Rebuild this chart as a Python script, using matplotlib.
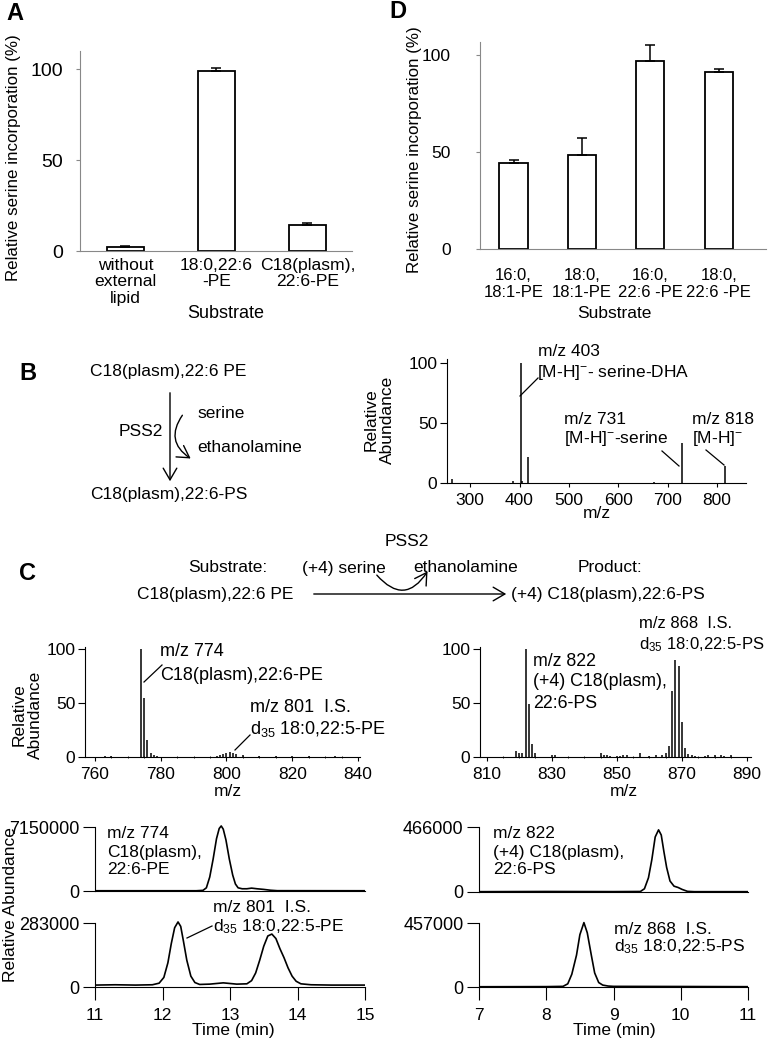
import matplotlib
matplotlib.use('Agg')
import matplotlib.pyplot as plt
from matplotlib.patches import FancyArrowPatch
from matplotlib.lines import Line2D

plt.rcParams['font.family'] = ['Liberation Sans', 'DejaVu Sans']
plt.rcParams['font.size'] = 12.5
plt.rcParams['mathtext.fontset'] = 'custom'
plt.rcParams['mathtext.rm'] = 'Liberation Sans'
plt.rcParams['mathtext.it'] = 'Liberation Sans:italic'
plt.rcParams['mathtext.bf'] = 'Liberation Sans:bold'

# ---- data ----
# A: serine incorporation
a_labels = ['without\nexternal\nlipid', '18:0,22:6\n-PE', 'C18(plasm),\n22:6-PE']
a_vals = [2.2, 99, 14.3]
a_err = [0.6, 1.5, 1.3]

# D: serine incorporation, other substrates
d_labels = ['16:0,\n18:1-PE', '18:0,\n18:1-PE', '16:0,\n22:6 -PE', '18:0,\n22:6 -PE']
d_vals = [44.3, 48.7, 97.1, 91.1]
d_err = [1.5, 8.4, 8.0, 1.5]

# B: MS/MS of product
b_mz = [264, 387, 403, 406, 418, 672, 729, 816]
b_int = [3, 2, 100, 1.5, 22, 1, 33, 14.5]

# C: substrate spectrum
c1_mz = [763, 765, 774, 775, 776, 777, 778, 779, 797, 798, 799, 800, 801, 802, 803, 805, 810, 815, 820, 825, 833]
c1_int = [0.8, 0.8, 100, 55, 16, 4, 1.5, 1, 1, 1.5, 2.5, 4, 5, 4, 2.5, 1.5, 1, 1, 1, 0.8, 0.8]

# C: product spectrum
c2_mz = [819, 820, 821, 822, 823, 824, 825, 830, 831, 845, 846, 847, 848, 850, 851, 852, 853,
         857, 860, 862, 864, 865, 866, 867, 868, 869, 870, 871, 872, 873, 874, 877, 878, 880, 882, 883, 885]
c2_int = [6, 4, 4, 100, 49, 12.5, 4, 2, 1.5, 4, 2, 1.5, 1, 1, 1, 1.5, 1.5,
          4, 1, 2, 2, 4, 10, 61, 90, 84, 32, 8, 3, 2, 1, 1, 1.5, 1.5, 1.5, 1, 1.5]

# C: chromatograms (fraction of full scale)
cl1_t = [11.0, 12.5, 12.6, 12.65, 12.7, 12.75, 12.8, 12.84, 12.87, 12.9, 12.94, 12.99, 13.04, 13.08,
         13.12, 13.18, 13.25, 13.32, 13.4, 13.5, 13.6, 13.7, 15.0]
cl1_y = [0.004, 0.004, 0.01, 0.05, 0.22, 0.5, 0.82, 0.98, 1.02, 0.97, 0.8, 0.5, 0.25, 0.11,
         0.05, 0.035, 0.035, 0.045, 0.035, 0.025, 0.012, 0.005, 0.004]
cl1_max = 7150000

cl2_t = [11.0, 11.3, 11.6, 11.85, 11.95, 12.02, 12.08, 12.13, 12.18, 12.23, 12.27, 12.31, 12.36, 12.42,
         12.48, 12.55, 12.7, 12.9, 13.1, 13.25, 13.32, 13.38, 13.44, 13.5, 13.56, 13.62, 13.68, 13.74,
         13.8, 13.86, 13.92, 13.98, 14.05, 14.2, 14.5, 15.0]
cl2_y = [0.03, 0.035, 0.03, 0.035, 0.06, 0.15, 0.38, 0.68, 0.93, 1.02, 0.95, 0.72, 0.42, 0.17,
         0.07, 0.04, 0.045, 0.065, 0.045, 0.05, 0.1, 0.22, 0.42, 0.64, 0.8, 0.83, 0.76, 0.6,
         0.46, 0.3, 0.17, 0.09, 0.05, 0.035, 0.03, 0.03]
cl2_max = 283000

cr1_t = [7.0, 8.0, 9.0, 9.4, 9.46, 9.52, 9.57, 9.62, 9.67, 9.71, 9.75, 9.79, 9.84, 9.9, 9.96, 10.02, 10.1, 10.2, 11.0]
cr1_y = [0.005, 0.008, 0.006, 0.008, 0.05, 0.22, 0.5, 0.85, 0.96, 0.88, 0.62, 0.38, 0.17, 0.09, 0.07, 0.04, 0.01, 0.005, 0.005]
cr1_max = 466000

cr2_t = [7.0, 8.0, 8.25, 8.32, 8.38, 8.45, 8.5, 8.56, 8.61, 8.67, 8.72, 8.78, 8.84, 8.92, 9.0, 10.0, 11.0]
cr2_y = [0.004, 0.006, 0.01, 0.05, 0.2, 0.5, 0.82, 1.01, 0.85, 0.5, 0.22, 0.07, 0.03, 0.015, 0.01, 0.008, 0.005]
cr2_max = 457000

W, H = 768, 1042
fig = plt.figure(figsize=(W / 100, H / 100), dpi=100)


def box(l, t, r, b):
    # axes from pixel edges
    return fig.add_axes([l / W, 1 - b / H, (r - l) / W, (b - t) / H])


def ftext(x, y, s, **kw):
    kw.setdefault('va', 'center')
    return fig.text(x / W, 1 - y / H, s, **kw)


def fline(x1, y1, x2, y2):
    fig.add_artist(Line2D([x1 / W, x2 / W], [1 - y1 / H, 1 - y2 / H], color='black', lw=0.9,
                          transform=fig.transFigure))


def farrow(x1, y1, x2, y2, rad=0.0):
    fig.add_artist(FancyArrowPatch((x1 / W, 1 - y1 / H), (x2 / W, 1 - y2 / H),
                                   transform=fig.transFigure, arrowstyle='->,head_length=0.6,head_width=0.35',
                                   connectionstyle='arc3,rad=%s' % rad, mutation_scale=14, lw=1.0,
                                   color='black'))


def bar_panel(ax, labels, vals, errs, ylim, xlim, pad, ysize, xsize):
    x = list(range(len(vals)))
    ax.bar(x, vals, width=0.41, color='white', edgecolor='black', lw=1.3,
           yerr=[[0] * len(errs), errs], error_kw=dict(ecolor='black', capsize=3.5, elinewidth=1.1, capthick=1.1))
    ax.set_ylim(*ylim)
    ax.set_xlim(*xlim)
    ax.set_yticks([0, 50, 100])
    ax.set_xticks(x)
    ax.set_xticklabels(labels, linespacing=1.12)
    for s in ['top', 'right']:
        ax.spines[s].set_visible(False)
    for s in ['left', 'bottom']:
        ax.spines[s].set_color('#888888')
    ax.tick_params(axis='y', length=3, color='#888888', pad=pad, labelsize=ysize)
    ax.tick_params(axis='x', length=0, pad=pad - 4, labelsize=xsize)


# ---- A ----
axA = box(80, 51, 352, 251)
bar_panel(axA, a_labels, a_vals, a_err, (0, 110), (-0.5, 2.49), 9, 14, 12.6)
ftext(14, 158, 'Relative serine incorporation (%)', rotation=90, ha='center', fontsize=12.2)
ftext(226, 314, 'Substrate', ha='center', fontsize=13)
ftext(15, 13, 'A', ha='center', fontsize=17, fontweight='bold')

# ---- D ----
axD = box(480, 42, 766, 249)
bar_panel(axD, d_labels, d_vals, d_err, (0, 106.7), (-0.49, 3.69), 18, 12.5, 12)
ftext(414, 150, 'Relative serine incorporation (%)', rotation=90, ha='center', fontsize=12.2)
ftext(614, 314, 'Substrate', ha='center')
ftext(398, 11, 'D', ha='center', fontsize=17, fontweight='bold')


def ms_axes(ax, mz, ints, xlim, ymax, xticks):
    ax.vlines(mz, 0, ints, color='black', lw=1.1)
    ax.set_xlim(*xlim)
    ax.set_ylim(0, ymax)
    ax.set_yticks([0, 50, 100])
    ax.set_xticks(xticks)
    for s in ['top', 'right']:
        ax.spines[s].set_visible(False)
    ax.tick_params(axis='y', length=5, pad=2)
    ax.tick_params(axis='x', length=3, pad=4)


# ---- B ----
ftext(28, 373, 'B', ha='center', fontsize=17, fontweight='bold')
ftext(90, 372, 'C18(plasm),22:6 PE')
ftext(90, 495, 'C18(plasm),22:6-PS')
farrow(170, 390, 170, 484)
farrow(184, 413, 193, 460, rad=0.55)
ftext(163, 432, 'PSS2', ha='right')
ftext(197, 414, 'serine')
ftext(197, 448, 'ethanolamine')

axB = box(447, 359, 746, 483)
ms_axes(axB, b_mz, b_int, (253, 859), 103.3, [300, 400, 500, 600, 700, 800])
ftext(379, 420, 'Relative\nAbundance', rotation=90, ha='center', linespacing=1.1)
ftext(597, 513, 'm/z', ha='center')
ftext(538, 352, 'm/z 403')
ftext(537, 373, '[M-H]$^{-}$- serine-DHA')
fline(520, 396, 538, 378)
ftext(564, 420, 'm/z 731')
ftext(564, 438, '[M-H]$^{-}$-serine')
fline(662, 451, 679, 466)
ftext(692, 420, 'm/z 818')
ftext(692, 438, '[M-H]$^{-}$')
fline(706, 450, 724, 465)

# ---- C scheme ----
ftext(28, 573, 'C', ha='center', fontsize=17, fontweight='bold')
ftext(407, 541, 'PSS2', ha='center')
ftext(188, 568, 'Substrate:')
ftext(302, 568, '(+4) serine')
ftext(413, 568, 'ethanolamine')
ftext(578, 568, 'Product:')
ftext(137, 594, 'C18(plasm),22:6 PE')
farrow(311, 594, 509, 594)
farrow(375, 573, 429, 569, rad=0.7)
ftext(511, 594, '(+4) C18(plasm),22:6-PS')

# ---- C spectra ----
axC1 = box(85, 647, 360, 757)
ms_axes(axC1, c1_mz, c1_int, (757, 840.6), 102, [760, 780, 800, 820, 840])
axC1.set_xticks(range(765, 840, 5), minor=True)
axC1.tick_params(axis='x', which='minor', length=2, direction='inout')
ftext(27, 715, 'Relative\nAbundance', rotation=90, ha='center', linespacing=1.1)
ftext(228, 792, 'm/z', ha='center')
ftext(160, 651, 'm/z 774', fontsize=13)
ftext(160, 675, 'C18(plasm),22:6-PE', fontsize=13)
fline(144, 682, 162, 665)
ftext(250, 708, 'm/z 801  I.S.', fontsize=13)
ftext(250, 729, 'd$_{35}$ 18:0,22:5-PE', fontsize=13)
fline(235, 750, 250, 735)

axC2 = box(480, 647, 751, 757)
ms_axes(axC2, c2_mz, c2_int, (808, 891.2), 102, [810, 830, 850, 870, 890])
axC2.set_xticks(range(815, 890, 5), minor=True)
axC2.tick_params(axis='x', which='minor', length=2, direction='inout')
ftext(624, 792, 'm/z', ha='center')
ftext(639, 623, 'm/z 868  I.S.', fontsize=12)
ftext(639, 645, 'd$_{35}$ 18:0,22:5-PS', fontsize=12)
ftext(533, 662, 'm/z 822', fontsize=12.8)
ftext(533, 682, '(+4) C18(plasm),', fontsize=12.8)
ftext(533, 703, '22:6-PS', fontsize=12.8)


# ---- C chromatograms ----
def chrom(ax, t, y, scale, xlim, xticks, bottom):
    ax.plot(t, [v * scale for v in y], color='black', lw=1.2)
    ax.set_xlim(*xlim)
    ax.set_ylim(0, scale * 1.035)
    ax.set_yticks([0, scale])
    ax.set_yticklabels(['0', str(scale)])
    for s in ['top', 'right']:
        ax.spines[s].set_visible(False)
    ax.spines['left'].set_bounds(0, scale)
    ax.tick_params(axis='y', length=9, pad=2, labelsize=13)
    if bottom:
        ax.set_xticks(xticks)
        ax.tick_params(axis='x', length=9, pad=6, labelsize=12.5)
    else:
        ax.set_xticks([])


axL1 = box(95, 825, 365, 891)
chrom(axL1, cl1_t, cl1_y, cl1_max, (11, 15), [11, 12, 13, 14, 15], False)
axL2 = box(95, 921, 365, 987)
chrom(axL2, cl2_t, cl2_y, cl2_max, (11, 15), [11, 12, 13, 14, 15], True)
axR1 = box(479, 825, 748, 892)
chrom(axR1, cr1_t, cr1_y, cr1_max, (7, 11), [7, 8, 9, 10, 11], False)
axR2 = box(479, 921, 748, 987)
chrom(axR2, cr2_t, cr2_y, cr2_max, (7, 11), [7, 8, 9, 10, 11], True)

ftext(11, 905, 'Relative Abundance', rotation=90, ha='center')
ftext(233, 1030, 'Time (min)', ha='center')
ftext(614, 1030, 'Time (min)', ha='center')
ftext(107, 833, 'm/z 774')
ftext(107, 852, 'C18(plasm),')
ftext(107, 870, '22:6-PE')
ftext(213, 908, 'm/z 801  I.S.')
ftext(213, 927, 'd$_{35}$ 18:0,22:5-PE')
fline(187, 938, 212, 926)
ftext(493, 833, 'm/z 822')
ftext(493, 852, '(+4) C18(plasm),')
ftext(493, 870, '22:6-PS')
ftext(614, 929, 'm/z 868  I.S.')
ftext(614, 947, 'd$_{35}$ 18:0,22:5-PS')

fig.savefig('out.png', dpi=100, facecolor='white')
